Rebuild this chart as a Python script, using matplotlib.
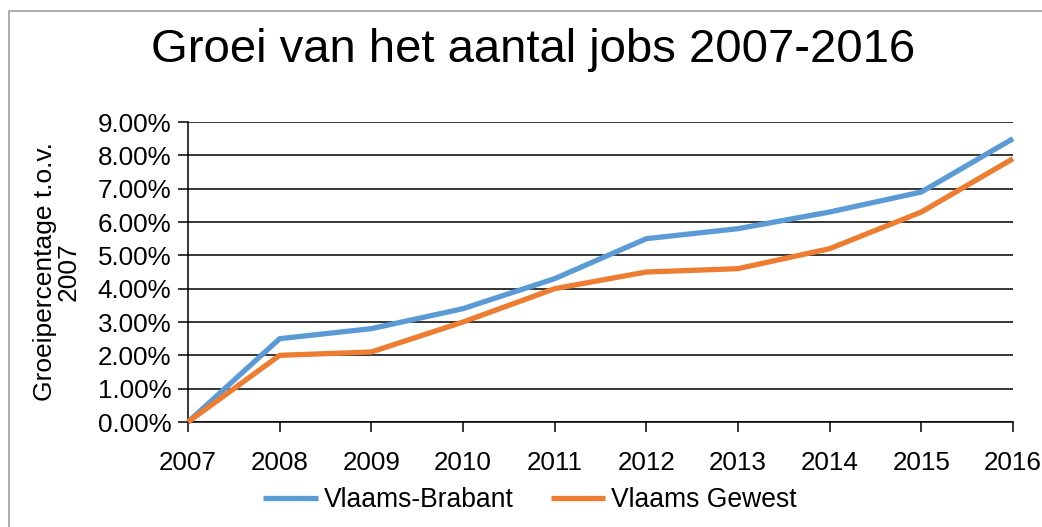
import matplotlib
matplotlib.use("Agg")
import matplotlib.pyplot as plt
from matplotlib.patches import Rectangle
from matplotlib.ticker import PercentFormatter

plt.rcParams['font.family'] = ['Liberation Sans', 'DejaVu Sans']

years = [2007, 2008, 2009, 2010, 2011, 2012, 2013, 2014, 2015, 2016]
vlaams_brabant = [0.0, 2.5, 2.8, 3.4, 4.3, 5.5, 5.8, 6.3, 6.9, 8.5]
vlaams_gewest = [0.0, 2.0, 2.1, 3.0, 4.0, 4.5, 4.6, 5.2, 6.3, 7.9]
series_names = ["Vlaams-Brabant", "Vlaams Gewest"]
series_colors = ["#5B9BD5", "#ED7D31"]

W, H = 1042, 527
fig = plt.figure(figsize=(W / 100, H / 100), dpi=100)
ax = fig.add_axes([188 / W, 1 - 422 / H, (1013 - 188) / W, (422 - 122) / H])

# light grey chart border (only left/top visible in the reference)
fig.patches.append(Rectangle((9 / W, -0.05), 1.1, 1 - 11 / H + 0.05,
                             transform=fig.transFigure, fill=False,
                             edgecolor="#a0a0a0", linewidth=1.2))

for vals, name, col in zip([vlaams_brabant, vlaams_gewest], series_names, series_colors):
    ax.plot(years, vals, color=col, linewidth=3.8, label=name,
            solid_capstyle="butt", clip_on=False, zorder=3)

ax.set_xlim(years[0], years[-1])
ax.set_ylim(0, 9)
ax.set_xticks(years)
ax.set_yticks(range(0, 10))
ax.yaxis.set_major_formatter(PercentFormatter(decimals=2))
ax.grid(axis="y", color="black", linewidth=1.1)
ax.set_axisbelow(True)

for s in ["top", "right"]:
    ax.spines[s].set_visible(False)
for s in ["left", "bottom"]:
    ax.spines[s].set_linewidth(1.1)
ax.tick_params(axis="both", direction="out", length=7, width=1.1,
               labelsize=18.7, colors="black")
ax.tick_params(axis="y", pad=5)
ax.tick_params(axis="x", pad=14)

ax.set_ylabel("Groeipercentage t.o.v.\n2007", fontsize=19, linespacing=1.0,
              labelpad=12)
fig.text(533 / W, 1 - 50 / H, "Groei van het aantal jobs 2007-2016",
         ha="center", va="center", fontsize=34)

fig.legend(loc="center", bbox_to_anchor=(530 / W, 1 - 500 / H), ncol=2,
           frameon=False, fontsize=19.1, handlelength=2.05, handletextpad=0.22,
           columnspacing=1.42)

fig.savefig("out.png", dpi=100)
